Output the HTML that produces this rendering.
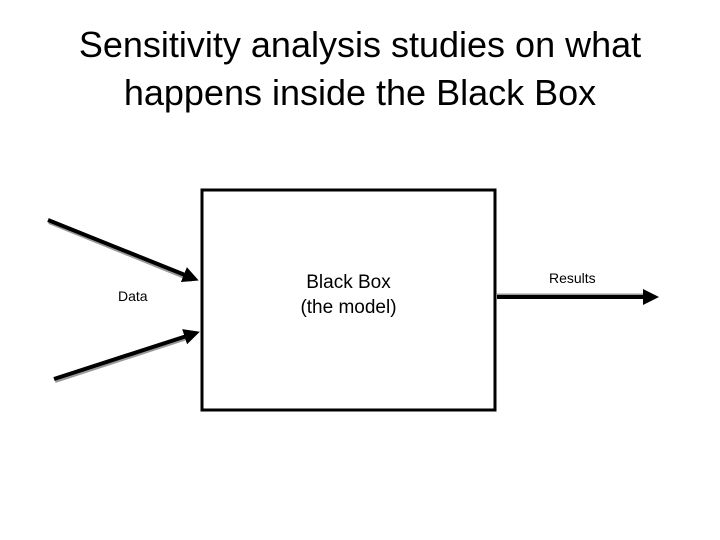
<!DOCTYPE html>
<html><head><style>
body{margin:0;width:720px;height:540px;background:#fff;overflow:hidden;position:relative;font-family:"Liberation Sans",sans-serif}
.t{position:absolute;left:0;width:720px;text-align:center;font-size:36px;color:#000;line-height:48px;top:21px}
.l{position:absolute;font-size:14px}
</style></head><body>
<div class="t">Sensitivity analysis studies on what<br>happens inside the Black Box</div>
<svg width="720" height="540" style="position:absolute;left:0;top:0">
<defs><marker id="a" markerWidth="4" markerHeight="4" refX="3" refY="2" orient="auto" markerUnits="strokeWidth"><path d="M0,0 L4,2 L0,4 z" fill="#000"/></marker></defs>
<rect x="202" y="190" width="293" height="220" fill="none" stroke="#000" stroke-width="3"/>
<line x1="49" y1="222" x2="192" y2="280" stroke="#999" stroke-width="4"/>
<line x1="48" y1="220" x2="195" y2="279" stroke="#000" stroke-width="4" marker-end="url(#a)"/>
<line x1="55" y1="381" x2="193" y2="336" stroke="#999" stroke-width="4"/>
<line x1="54" y1="379" x2="196" y2="333" stroke="#000" stroke-width="4" marker-end="url(#a)"/>
<line x1="497" y1="295" x2="652" y2="295" stroke="#999" stroke-width="3"/>
<line x1="497" y1="297" x2="655" y2="297" stroke="#000" stroke-width="4" marker-end="url(#a)"/>
</svg>
<div class="l" style="left:118px;top:288px">Data</div>
<div class="l" style="left:549px;top:270px">Results</div>
<div style="position:absolute;left:202px;width:293px;top:270px;text-align:center;font-size:19px;line-height:25px">Black Box<br>(the model)</div>
</body></html>
